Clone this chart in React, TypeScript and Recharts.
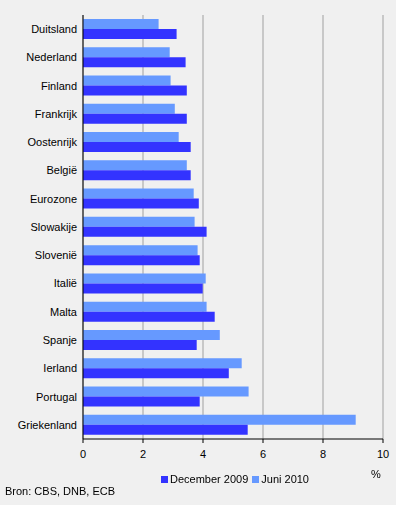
import React from 'react';
import {
  BarChart,
  Bar,
  XAxis,
  YAxis,
  CartesianGrid,
  Legend,
} from 'recharts';

const landen = [
  'Duitsland',
  'Nederland',
  'Finland',
  'Frankrijk',
  'Oostenrijk',
  'België',
  'Eurozone',
  'Slowakije',
  'Slovenië',
  'Italië',
  'Malta',
  'Spanje',
  'Ierland',
  'Portugal',
  'Griekenland',
];
const dec2009 = [3.12, 3.42, 3.46, 3.46, 3.59, 3.59, 3.86, 4.12, 3.89, 3.99, 4.39, 3.79, 4.86, 3.89, 5.49];
const juni2010 = [2.52, 2.89, 2.92, 3.06, 3.19, 3.46, 3.69, 3.72, 3.82, 4.09, 4.12, 4.56, 5.29, 5.52, 9.09];
const xTicks = [0, 2, 4, 6, 8, 10];

const DARK = '#3333ff';
const LIGHT = '#6699ff';
const FONT = '"Liberation Sans", Arial, sans-serif';

const data = landen.map((land, i) => ({ land, dec: dec2009[i], jun: juni2010[i] }));

const legendItems = [
  { name: 'December 2009', color: DARK },
  { name: 'Juni 2010', color: LIGHT },
];

const renderLegend = () => (
  <div style={{ display: 'flex', justifyContent: 'center', fontFamily: FONT, fontSize: 11, color: '#000' }}>
    {legendItems.map((it, i) => (
      <span key={it.name} style={{ display: 'flex', alignItems: 'center', marginLeft: i ? 4 : 0 }}>
        <span style={{ width: 7, height: 7, background: it.color, marginRight: 2 }} />
        {it.name}
      </span>
    ))}
  </div>
);

export default function App() {
  return (
    <div style={{ position: 'fixed', left: 0, top: 0, width: 396, height: 505, background: '#f0f0f0' }}>
      <BarChart
        width={396}
        height={505}
        data={data}
        layout="vertical"
        margin={{ top: 15, right: 13, bottom: 30, left: 0 }}
        barSize={10}
        barGap={0}
      >
        <CartesianGrid horizontal={false} stroke="#a0a0a0" />
        <XAxis
          type="number"
          domain={[0, 10]}
          ticks={xTicks}
          interval={0}
          height={24}
          stroke="#000"
          tickSize={4}
          tickMargin={7}
          tick={{ fill: '#000', fontSize: 11, fontFamily: FONT }}
          allowDataOverflow
        />
        <XAxis
          xAxisId="top"
          type="number"
          orientation="top"
          domain={[0, 10]}
          height={0}
          tick={false}
          tickLine={false}
          stroke="#808080"
        />
        <YAxis
          type="category"
          dataKey="land"
          width={83}
          stroke="#000"
          tickLine={false}
          tickSize={4}
          tickMargin={2}
          interval={0}
          tick={{ fill: '#000', fontSize: 11, fontFamily: FONT }}
        />
        <Legend
          content={renderLegend}
          wrapperStyle={{ position: 'absolute', left: 0, width: 470, top: 473 }}
        />
        <Bar dataKey="jun" name="Juni 2010" fill={LIGHT} isAnimationActive={false} />
        <Bar dataKey="dec" name="December 2009" fill={DARK} isAnimationActive={false} />
      </BarChart>
      <div style={{ position: 'absolute', left: 371, top: 468, fontFamily: FONT, fontSize: 11 }}>%</div>
      <div style={{ position: 'absolute', left: 5, top: 485, fontFamily: FONT, fontSize: 11 }}>
        Bron: CBS, DNB, ECB
      </div>
    </div>
  );
}
